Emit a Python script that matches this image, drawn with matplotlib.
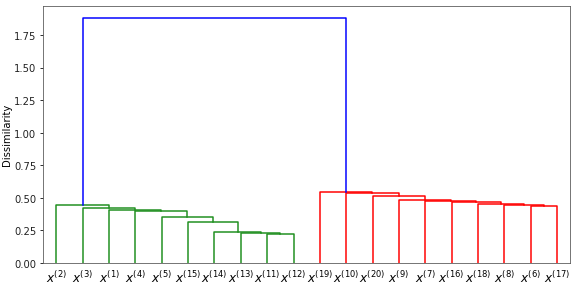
import matplotlib
matplotlib.use("Agg")
import matplotlib.pyplot as plt

# leaf order (left to right) and merge heights of the two chained clusters
left_leaves = [2, 3, 1, 4, 5, 15, 14, 13, 11, 12]
left_heights = [0.447, 0.420, 0.405, 0.395, 0.353, 0.312, 0.240, 0.232, 0.226]
right_leaves = [19, 10, 20, 9, 7, 16, 18, 8, 6, 17]
right_heights = [0.547, 0.538, 0.517, 0.486, 0.478, 0.466, 0.455, 0.447, 0.438]
root_height = 1.88


def leaf_x(i):
    # same leaf spacing as scipy's dendrogram
    return 5 + 10 * i


def draw_chain(ax, first, heights, color):
    # cluster k = leaf (first + k) joined with cluster k + 1
    n = len(heights)
    cx = (leaf_x(first + n - 1) + leaf_x(first + n)) / 2
    ax.plot([leaf_x(first + n - 1)] * 2 + [leaf_x(first + n)] * 2,
            [0, heights[-1], heights[-1], 0], color=color, lw=1.5)
    for k in range(n - 2, -1, -1):
        xl = leaf_x(first + k)
        ax.plot([xl, xl, cx, cx], [0, heights[k], heights[k], heights[k + 1]],
                color=color, lw=1.5)
        cx = (xl + cx) / 2
    return cx


fig = plt.figure(figsize=(8, 4.04), dpi=72)
ax = fig.add_axes([0.075, 0.093, 0.915, 0.884])

cl = draw_chain(ax, 0, left_heights, "#1f8f1f")
cr = draw_chain(ax, len(left_leaves), right_heights, "r")
ax.plot([cl, cl, cr, cr], [left_heights[0], root_height, root_height, right_heights[0]],
        color="b", lw=1.5)

labels = ["$x^{(%d)}$" % v for v in left_leaves + right_leaves]
ax.set_xticks([leaf_x(i) for i in range(len(labels))])
ax.set_xticklabels(labels, fontsize=12)
ax.tick_params(axis="x", length=0, pad=6)
ax.set_xlim(0, 10 * len(labels))
ax.set_ylim(0, root_height * 1.05)
ax.set_yticks([0, 0.25, 0.5, 0.75, 1.0, 1.25, 1.5, 1.75])
ax.tick_params(axis="y", labelsize=10, labelcolor="#222222")
ax.set_ylabel("Dissimilarity", fontsize=10, labelpad=2)
for s in ax.spines.values():
    s.set_color("#555555")

fig.savefig("out.png", dpi=72)
